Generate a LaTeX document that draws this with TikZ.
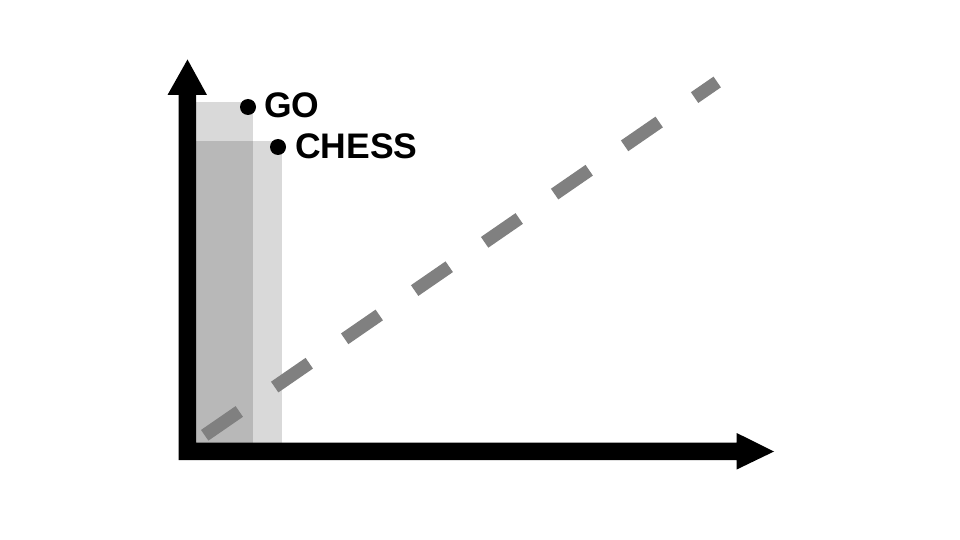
\documentclass[tikz,border=0pt]{standalone}
\usepackage{fontspec}
\setmainfont{Liberation Sans}
\begin{document}
\begin{tikzpicture}[x=1pt,y=-1pt,
  band/.style={fill=black,fill opacity=0.15,draw=none},
  axisfill/.style={fill=black,draw=none},
  trend/.style={draw=black!50,line width=13pt,dash pattern=on 42pt off 43pt,line cap=butt},
  dotmark/.style={circle,fill=black,inner sep=0pt,minimum size=16pt},
  lbl/.style={font=\fontsize{35.5}{36}\selectfont\bfseries,anchor=base west,inner sep=0pt}]
\useasboundingbox[fill=white] (0,0) rectangle (960,540);
% bars
\fill[band] (196,101.7) rectangle (253,442.5);
\fill[band] (196,140.7) rectangle (281.5,442.5);
% axes
\fill[axisfill] (178.5,460) -- (178.5,95) -- (167.5,95) -- (187.5,59.5) -- (207,95) -- (196,95) -- (196,442.5) -- (736.7,442.5) -- (736.7,433) -- (774,451.5) -- (736.7,469.5) -- (736.7,460) -- cycle;
% trend line
\coordinate (ts) at (204.7,435.3);
\coordinate (te) at (717.2,82);
\draw[trend] (ts) -- (te);
% labels
\node[dotmark] (gd) at (248,107) {};
\node[dotmark] (cd) at (278,147) {};
\node[lbl] (go) at (264,117.5) {GO};
\node[lbl] (ch) at (295,159) {CHESS};
\end{tikzpicture}
\end{document}
